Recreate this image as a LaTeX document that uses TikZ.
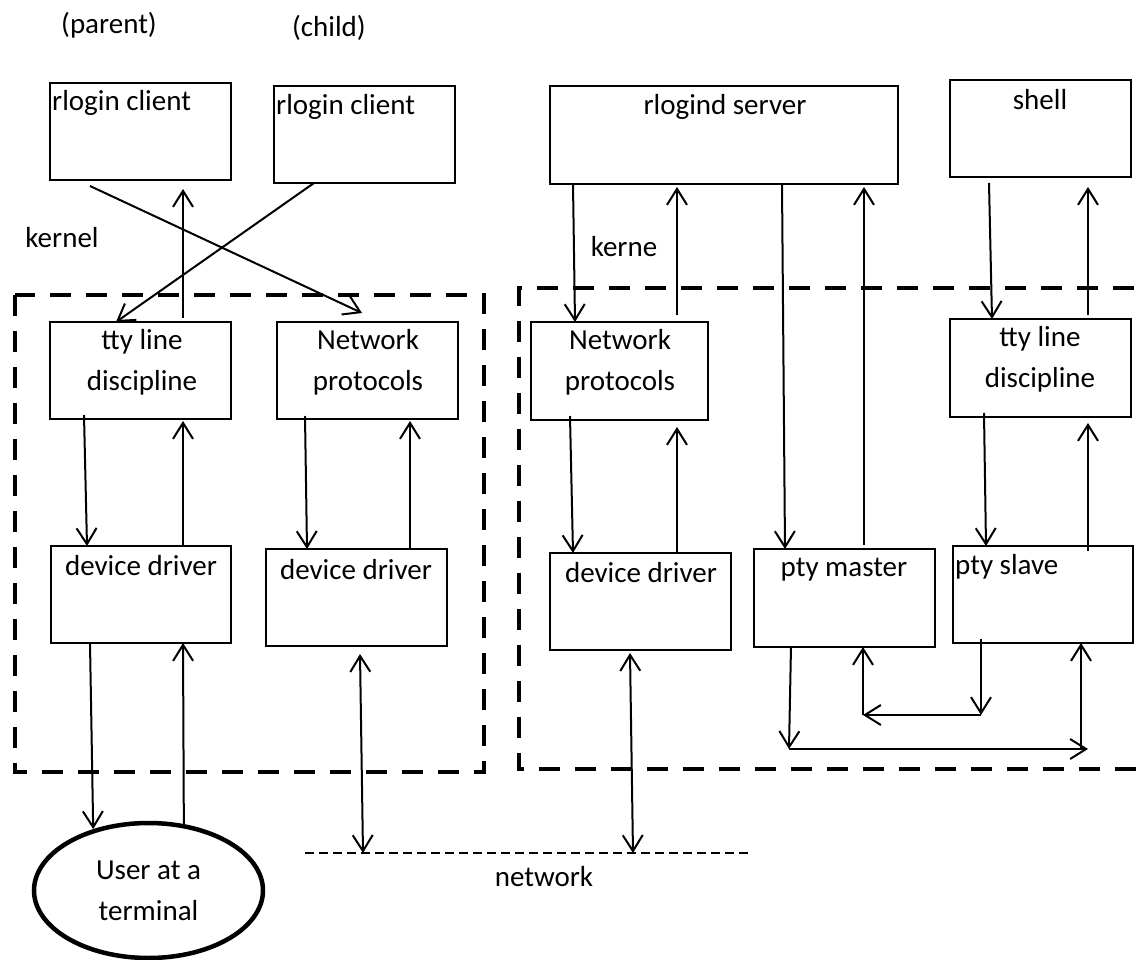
\documentclass[tikz,border=0pt]{standalone}
\usepackage{fontspec}
\setmainfont{Carlito}
\usetikzlibrary{arrows.meta,shapes.geometric}
\begin{document}
\begin{tikzpicture}[x=1pt,y=-1pt,
  box/.style={draw,line width=1.3pt,inner sep=0pt,outer sep=0pt,minimum width=181pt,minimum height=97pt},
  lbl/.style={inner sep=0pt,font=\fontsize{29}{41}\selectfont,align=center},
  arr/.style={line width=2pt,-{Straight Barb[length=16pt,width=20pt]}},
  biarr/.style={line width=2pt,{Straight Barb[length=16pt,width=20pt]}-{Straight Barb[length=16pt,width=20pt]}},
  kernelbox/.style={line width=4.5pt,dash pattern=on 21pt off 15pt},
  wire/.style={line width=1.3pt,dash pattern=on 9pt off 5pt}]
\clip (0,0) rectangle (1143,960);

% kernel boundaries
\draw[kernelbox] (15,295) rectangle (484,772);
\draw[kernelbox] (1170,288) -- (519,288) -- (519,769) -- (1170,769);

% network wire
\coordinate (netL) at (305,853);
\coordinate (netR) at (748,853);
\draw[wire] (netL) -- (netR);

% client host boxes
\node[box] (p1) at (140.5,131.5) {};
\node[box] (p2) at (364.5,134.5) {};
\node[box] (tty1) at (140.5,370.5) {};
\node[box] (net1) at (367.5,370.5) {};
\node[box,minimum width=180pt] (dd1) at (141,594.5) {};
\node[box] (dd2) at (356.5,597.5) {};
\node[draw,ellipse,line width=4.5pt,minimum width=229pt,minimum height=135pt,lbl] (user) at (148.5,890.5) {User at a\\terminal};

% server host boxes
\node[box,minimum width=348pt,minimum height=98pt] (rs) at (724,135) {};
\node[box] (sh) at (1040.5,128.5) {};
\node[box,minimum width=177pt,minimum height=98pt] (net2) at (619.5,371) {};
\node[box,minimum height=98pt] (tty2) at (1040.5,368) {};
\node[box] (dd3) at (640.5,601.5) {};
\node[box,minimum height=98pt] (pm) at (844.5,598) {};
\node[box,minimum width=180pt] (ps) at (1043,594.5) {};

% texts
\node[lbl] (tparent) at (109,25) {(parent)};
\node[lbl] (tchild) at (329,28) {(child)};
\node[lbl] (tkern1) at (62,238) {kernel};
\node[lbl] (tkern2) at (624,247) {kerne};
\node[lbl] (tnet) at (544,877) {network};
\node[lbl,anchor=west] (tp1) at (52,103) {rlogin client};
\node[lbl,anchor=west] (tp2) at (276,107) {rlogin client};
\node[lbl] (ttty1) at (142,362.5) {tty line\\discipline};
\node[lbl] (tnet1) at (368,362.5) {Network\\protocols};
\node[lbl] (tdd1) at (141,566) {device driver};
\node[lbl] (tdd2) at (356,570) {device driver};
\node[lbl] (trs) at (725,107) {rlogind server};
\node[lbl] (tsh) at (1040,100) {shell};
\node[lbl] (tnet2) at (620,362.5) {Network\\protocols};
\node[lbl] (ttty2) at (1040,359) {tty line\\discipline};
\node[lbl] (tdd3) at (641,573) {device driver};
\node[lbl] (tpm) at (844,570) {pty master};
\node[lbl,anchor=west] (tps) at (955,567) {pty slave};

% client side connectors
\draw[arr] ([xshift=40pt,yshift=-6pt]p1.south west) -- ([xshift=85pt,yshift=9pt]net1.north west);
\draw[arr] ([xshift=40pt]p2.south west) -- ([xshift=66pt]tty1.north west);
\draw[arr] ([xshift=133pt,yshift=4pt]tty1.north west) -- ([xshift=133pt,yshift=-9pt]p1.south west);
\draw[arr] ([xshift=34pt,yshift=4pt]tty1.south west) -- ([xshift=36pt]dd1.north west);
\draw[arr] ([xshift=132pt]dd1.north west) -- ([xshift=133pt,yshift=-2pt]tty1.south west);
\draw[arr] ([xshift=39pt]dd1.south west) -- (user.132);
\draw[arr] (user.62) -- ([xshift=132pt]dd1.south west);
\draw[arr] ([xshift=28pt,yshift=3pt]net1.south west) -- ([xshift=41pt]dd2.north west);
\draw[arr] ([xshift=144pt]dd2.north west) -- ([xshift=133pt,yshift=-2pt]net1.south west);
\draw[biarr] ([xshift=94pt,yshift=-8pt]dd2.south west) -- ([xshift=58pt]netL);

% server side connectors
\draw[arr] ([xshift=23pt]rs.south west) -- ([xshift=44pt]net2.north west);
\draw[arr] ([xshift=146pt,yshift=7pt]net2.north west) -- ([xshift=127pt,yshift=-3pt]rs.south west);
\draw[arr] ([xshift=232pt]rs.south west) -- ([xshift=31pt]pm.north west);
\draw[arr] ([xshift=110pt,yshift=4pt]pm.north west) -- ([xshift=314pt,yshift=-3pt]rs.south west);
\draw[arr] ([xshift=39pt,yshift=-6pt]sh.south west) -- ([xshift=42pt]tty2.north west);
\draw[arr] ([xshift=138pt,yshift=4pt]tty2.north west) -- ([xshift=138pt,yshift=-10pt]sh.south west);
\draw[arr] ([xshift=39pt,yshift=4pt]net2.south west) -- ([xshift=23pt]dd3.north west);
\draw[arr] ([xshift=127pt]dd3.north west) -- ([xshift=146pt,yshift=-7pt]net2.south west);
\draw[biarr] ([xshift=80pt,yshift=-3pt]dd3.south west) -- ([xshift=328pt]netL);
\draw[arr] ([xshift=135pt,yshift=-5pt]ps.north west) -- ([xshift=138pt,yshift=-6pt]tty2.south west);
\draw[arr] ([xshift=34pt,yshift=4pt]tty2.south west) -- ([xshift=33pt]ps.north west);

% pty loops
\coordinate (sbend) at (981,715);
\coordinate (mbend) at (863,715);
\draw[arr] ([xshift=28pt,yshift=4pt]ps.south west) -- (sbend);
\draw[arr] (sbend) -- (mbend);
\draw[arr] (mbend) -- ([xshift=109pt]pm.south west);
\coordinate (mdrop) at (789,749);
\coordinate (srise) at (1081,749);
\coordinate (rend) at (1088,749);
\draw[arr] ([xshift=37pt,yshift=1pt]pm.south west) -- (mdrop);
\draw[arr] (mdrop) -- (rend);
\draw[arr] (srise) -- ([xshift=128pt]ps.south west);
\end{tikzpicture}
\end{document}
